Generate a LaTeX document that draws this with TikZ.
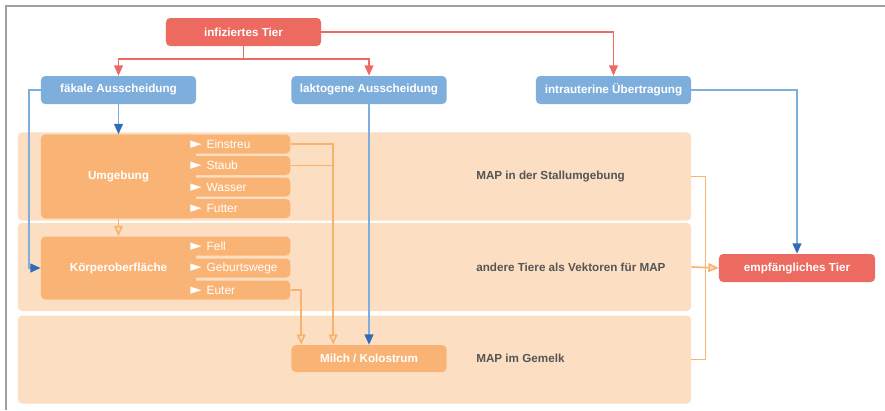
\documentclass[tikz,border=0pt]{standalone}
\usepackage{fontspec}
\setmainfont{Liberation Sans}
\newfontfamily\bulletfont{DejaVu Sans}
\usepackage{tikz}
\usetikzlibrary{arrows.meta,positioning}
\definecolor{infred}{HTML}{EC6A5F}
\definecolor{pathblue}{HTML}{7EAEDC}
\definecolor{arrowblue}{HTML}{2F6CB6}
\definecolor{envorange}{HTML}{F9B475}
\definecolor{bandpeach}{HTML}{FCDFC3}
\definecolor{lineorange}{HTML}{F8B36F}
\definecolor{labelgray}{HTML}{555555}
\definecolor{framegray}{HTML}{A0A0A0}
\tikzset{
  redbox/.style  ={rounded corners=3pt,fill=infred,text=white,inner sep=0pt,
                   minimum width=3.875cm,minimum height=0.7cm,font=\bfseries\fontsize{8.3}{10}\selectfont},
  bluebox/.style ={rounded corners=3pt,fill=pathblue,text=white,inner sep=0pt,
                   minimum width=3.875cm,minimum height=0.7cm,font=\bfseries\fontsize{8.3}{10}\selectfont},
  envbox/.style  ={rounded corners=3pt,fill=envorange,text=white,inner sep=0pt,
                   minimum width=3.875cm,font=\bfseries\fontsize{8.3}{10}\selectfont},
  itembox/.style ={rounded corners=3pt,fill=envorange,text=white,anchor=west,align=left,
                   inner xsep=0.075cm,inner ysep=0pt,text width=2.425cm,minimum height=0.475cm,
                   font=\fontsize{8.5}{10}\selectfont},
  band/.style    ={rounded corners=3pt,fill=bandpeach,minimum width=16.825cm,minimum height=2.2cm},
  bandlabel/.style={anchor=west,inner xsep=0pt,text=labelgray,font=\bfseries\fontsize{8.3}{10}\selectfont},
  rflow/.style   ={draw=infred,line width=1.2pt,-{Triangle[length=2.6mm,width=2.2mm]}},
  bflow/.style   ={draw=pathblue,line width=1.2pt,-{Triangle[length=2.6mm,width=2.2mm,color=arrowblue]}},
  oflow/.style   ={draw=lineorange,line width=1.2pt,-{Triangle[length=2.6mm,width=2.2mm,fill=envorange!45]}},
  oline/.style   ={draw=lineorange,line width=1.2pt}
}
\newcommand{\itm}[1]{{\bulletfont\fontsize{10.5}{10}\selectfont\char"25BA}\hspace{3.5pt}#1}

\begin{document}
\begin{tikzpicture}[x=0.025cm,y=-0.025cm]
  \useasboundingbox (0,0) rectangle (885,410);
  \draw[framegray,line width=0.8pt] (6,410) -- (6,6) -- (885,6);
  % bands
  \node[band] (bandstall) at (354.5,176.5) {};
  \node[band] (bandvec) at (354.5,267) {};
  \node[band] (bandmilk) at (354.5,359.5) {};
  \node[bandlabel] (lblstall) at (476,176.5) {MAP in der Stallumgebung};
  \node[bandlabel] (lblvec) at (476,267.5) {andere Tiere als Vektoren für MAP};
  \node[bandlabel] (lblmilk) at (476,358.5) {MAP im Gemelk};
  % top
  \node[redbox] (inf) at (243.5,32) {infiziertes Tier};
  \node[bluebox] (faek) at (118.5,90) {fäkale Ausscheidung};
  \node[bluebox] (lakt) at (369,90) {laktogene Ausscheidung};
  \node[bluebox] (intra) at (613.5,90) {intrauterine Übertragung};
  % environment and body surface
  \node[envbox,minimum height=2.1cm] (umg) at (118.5,176.5) {Umgebung};
  \node[itembox] (einstreu) at (187,144) {\itm{Einstreu}};
  \node[itembox] (staub) at (187,165.5) {\itm{Staub}};
  \node[itembox] (wasser) at (187,187) {\itm{Wasser}};
  \node[itembox] (futter) at (187,208.5) {\itm{Futter}};
  \node[envbox,minimum height=1.575cm] (koerp) at (118.5,268) {Körperoberfläche};
  \node[itembox] (fell) at (187,246) {\itm{Fell}};
  \node[itembox] (geburt) at (187,268) {\itm{Geburtswege}};
  \node[itembox] (euter) at (187,290) {\itm{Euter}};
  \node[envbox,minimum height=0.675cm] (milch) at (369,358.5) {Milch / Kolostrum};
  \node[redbox,minimum width=3.9cm] (empf) at (797,268) {empfängliches Tier};
  \coordinate (stjoin) at (333,165.5);
  % connectors
  \draw[rflow] (inf.south) -- ++(0,13) -| (faek.north);
  \draw[rflow] (inf.south) -- ++(0,13) -| (lakt.north);
  \draw[rflow] (inf.east) -| (intra.north);
  \draw[bflow] (faek.south) -- (umg.north);
  \draw[bflow] (faek.west) -- ++(-12,0) |- (koerp.west);
  \draw[bflow] (lakt.south) -- (milch.north);
  \draw[bflow] (intra.east) -| (empf.north);
  \draw[oflow] (umg.south) -- (koerp.north);
  \draw[oflow] (einstreu.east) -| ([xshift=1.05cm]milch.north west);
  \draw[oline] (staub.east) -- (stjoin);
  \draw[oflow] (euter.east) -| ([xshift=0.25cm]milch.north west);
  \draw[oline] (bandstall.east) -- ++(14,0) |- (bandmilk.east);
  \draw[oflow] (bandvec.east) -- (empf.west);
\end{tikzpicture}
\end{document}
